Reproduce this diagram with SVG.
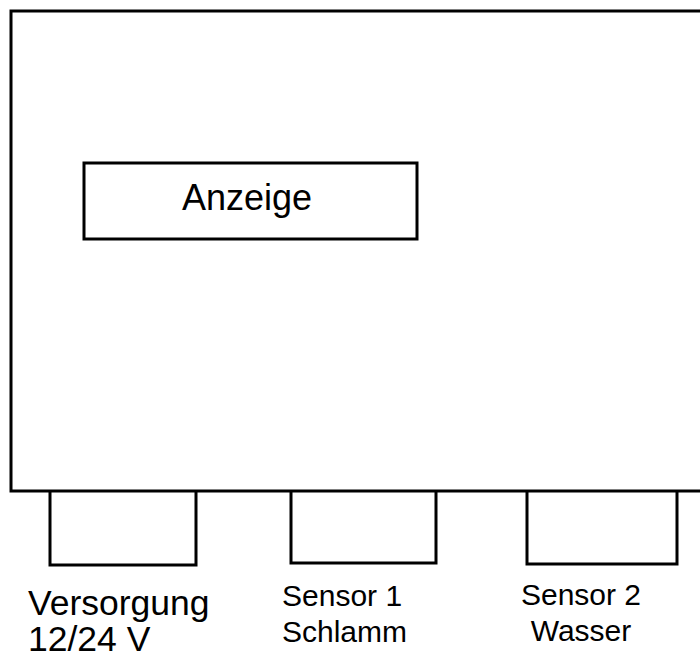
<svg xmlns="http://www.w3.org/2000/svg" width="700" height="655" viewBox="0 0 700 655">
<style>
.box{fill:none;stroke:#000;stroke-width:3}
.t{font-family:"Liberation Sans",Arial,sans-serif;fill:#000}
</style>
<rect width="700" height="655" fill="#fff"/>
<g id="gehaeuse"><path class="box" d="M700 11 H11 V491 H700"/></g>
<g id="anzeige"><rect class="box" x="84" y="163" width="333" height="76" stroke-width="2.5"/><text class="t" x="247" y="210" font-size="36" text-anchor="middle">Anzeige</text></g>
<g id="versorgung"><path class="box" d="M50 491 V565 H196 V491"/><text class="t" x="28" y="615" font-size="35.5">Versorgung</text><text class="t" x="28" y="651" font-size="35.5">12/24 V</text></g>
<g id="sensor1"><path class="box" d="M291 491 V563 H436 V491"/><text class="t" x="282" y="606" font-size="30">Sensor 1</text><text class="t" x="282" y="642" font-size="30">Schlamm</text></g>
<g id="sensor2"><path class="box" d="M527 491 V564 H677 V491"/><text class="t" x="581" y="605" font-size="30" text-anchor="middle">Sensor 2</text><text class="t" x="581" y="641" font-size="30" text-anchor="middle">Wasser</text></g>
<g id="connectors"/>
</svg>
